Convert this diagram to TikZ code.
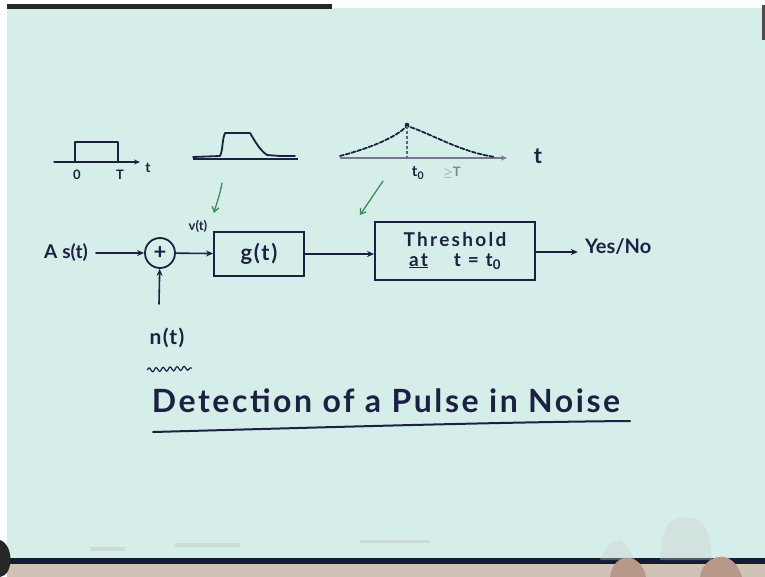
\documentclass[tikz,border=0pt]{standalone}
\usepackage{fontspec}
\setmainfont{Lato}
\usetikzlibrary{arrows.meta,decorations.pathmorphing}
\definecolor{paper}{HTML}{D5EEEA}
\definecolor{ink}{HTML}{1C2142}
\definecolor{greenink}{HTML}{3E8A58}
\definecolor{tan}{HTML}{CFC2B6}
\definecolor{skin}{HTML}{B89888}
\newcommand{\fs}[1]{\fontsize{#1}{#1}\selectfont}
\tikzset{
  ink line/.style={draw=ink, line width=1.6pt, line cap=round, line join=round},
  flow/.style={ink line, -{Stealth[length=7pt,width=6pt]}},
  blockbox/.style={draw=ink, line width=1.8pt, inner sep=2pt},
  hand/.style={text=ink, inner sep=1pt},
  greenarrow/.style={draw=greenink, line width=1.3pt, line cap=round, -{Straight Barb[length=5pt,width=7pt]}},
  sketchline/.style={draw=ink, line width=1.3pt, line cap=round, line join=round}
}
\begin{document}
\begin{tikzpicture}[x=1pt,y=-1pt]
\useasboundingbox (0,0) rectangle (765,577);
% background photo framing
\fill[white!96!paper] (0,0) rectangle (765,577);
\fill[paper] (7,8) rectangle (765,560);
\fill[black!85] (7,4) rectangle (332,9);
\fill[black!70] (762,5) rectangle (765,40);
\fill[tan] (7,563) rectangle (765,577);
\fill[ink!80!black] (7,558) rectangle (765,564);
\fill[black!85] (0,540) .. controls (14,545) and (14,575) .. (0,577) -- cycle;
% faint shadows near bottom
\fill[black!25, opacity=0.4] (90,547) rectangle (125,551);
\fill[black!25, opacity=0.4] (175,543) rectangle (240,547);
\fill[black!25, opacity=0.4] (360,540) rectangle (430,543);
\fill[black!20, opacity=0.35] (660,560) .. controls (662,520) and (672,518) .. (688,518) .. controls (705,518) and (710,530) .. (712,560) -- cycle;
\fill[black!20, opacity=0.35] (600,560) .. controls (605,545) and (615,540) .. (620,540) .. controls (628,545) and (630,552) .. (635,560) -- cycle;
\fill[skin] (610,577) .. controls (612,562) and (622,556) .. (630,558) .. controls (640,560) and (645,570) .. (646,577) -- cycle;
\fill[skin] (700,577) .. controls (702,562) and (715,555) .. (725,557) .. controls (735,560) and (740,570) .. (742,577) -- cycle;

% ---------- sketch 1: rectangular pulse ----------
\draw[sketchline, -{Stealth[length=6pt,width=5pt]}] (54,162) -- (140,162);
\draw[sketchline] (60,162) -- (75,162) -- (75,142) -- (118,142) -- (118,162);
\node[hand, font=\fs{13}\bfseries] (lab0) at (77,175) {0};
\node[hand, font=\fs{13}\bfseries] (labT) at (120,175) {T};
\node[hand, font=\fs{14}\bfseries] (labt1) at (148,168) {t};

% ---------- sketch 2: filtered pulse ----------
\draw[draw=ink, line width=2.2pt] (193,159) -- (298,159);
\draw[sketchline, line width=1.8pt] (193,157) -- (220,156) .. controls (223,150) and (222,140) .. (225,133)
  -- (250,133) .. controls (256,143) and (260,150) .. (267,155) -- (280,156) -- (295,156);

% ---------- sketch 3: matched filter output ----------
\draw[draw=ink!60, line width=1.1pt, -{Stealth[length=6pt,width=5pt]}] (340,158) -- (507,158);
\draw[sketchline, line width=1.8pt, dash pattern=on 4pt off 2pt] (340,156) .. controls (370,148) and (395,138) .. (407,126)
  .. controls (430,133) and (460,152) .. (495,157);
\fill[ink] (407,125) circle (2.3pt);
\draw[draw=ink!70, line width=1.1pt, dash pattern=on 3pt off 2pt] (407,126) -- (407,158);
\node[hand, font=\fs{22}\bfseries] (labt3) at (538,156) {t};
\node[hand, font=\fs{15}\bfseries] (labt0) at (418,173) {t\textsubscript{0}};
\node[hand, font=\fs{13}, text=ink!55] (labgeT) at (452,173) {$\geq$\bfseries T};

% ---------- green annotation arrows ----------
\draw[greenarrow] (222,183) .. controls (220,195) and (216,205) .. (214,213);
\draw[greenarrow] (383,181) -- (360,215);

% ---------- block diagram ----------
\node[hand, font=\fs{19}\bfseries, anchor=east] (input) at (89,253) {A\hspace{5pt}s(t)};
\node[circle, draw=ink, line width=1.8pt, minimum size=30pt, inner sep=0pt, font=\fs{22}\bfseries, text=ink] (sum) at (160,253) {+};
\node[blockbox, hand, font=\fs{22}\bfseries\addfontfeature{LetterSpace=8}, minimum width=90pt, minimum height=44pt] (gbox) at (259,254) {g(t)};
\node[blockbox, hand, font=\fs{19}\bfseries\addfontfeature{LetterSpace=12}, minimum width=160pt, minimum height=58pt, align=center] (thr) at (455,251)
  {Threshold\\[1pt] \underline{at}\quad\ t = t\textsubscript{0}};
\node[hand, font=\fs{20}\bfseries, anchor=west] (yesno) at (584,247) {Yes/No};
\node[hand, font=\fs{13}\bfseries] (vt) at (198,226) {v(t)};
\coordinate (noisefoot) at (159,304);
\node[hand, font=\fs{21}\bfseries\addfontfeature{LetterSpace=6}] (nt) at (167,338) {n(t)};

\draw[flow, shorten <=7pt] (input) -- (sum);
\draw[flow] (noisefoot) -- (sum);
\draw[flow] (sum) -- (gbox);
\draw[flow] (gbox.east) -- (thr.west |- gbox.east);
\draw[flow] (thr.east |- yesno.west) ++(0,5) -- ++(42,0);

% squiggle under n(t)
\draw[draw=ink, line width=1.2pt, decorate, decoration={snake, segment length=7pt, amplitude=2pt}] (147,370) -- (192,368);

% ---------- title ----------
\node[hand, font=\fs{32}\bfseries\addfontfeature{LetterSpace=8}] (title) at (386,401) {Detection of a Pulse in Noise};
\draw[draw=ink, line width=2pt, line cap=round] (153,432) .. controls (300,428) and (500,422) .. (630,421);
\end{tikzpicture}
\end{document}
